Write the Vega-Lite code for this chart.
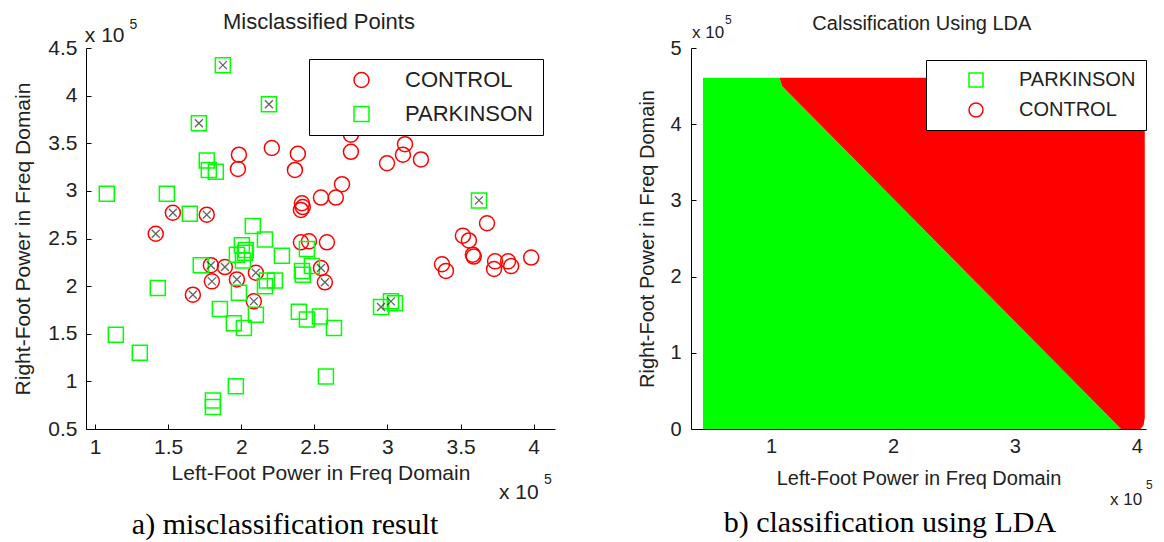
{
  "$schema": "https://vega.github.io/schema/vega-lite/v6.json",
  "background": "white",
  "padding": {"left": 12, "top": 10, "right": 5, "bottom": 0},
  "bounds": "flush",
  "spacing": 136,
  "datasets": {
    "points": [
      {"x": 2.209, "y": 3.45, "cls": "CONTROL", "mis": 0},
      {"x": 1.984, "y": 3.38, "cls": "CONTROL", "mis": 0},
      {"x": 1.977, "y": 3.23, "cls": "CONTROL", "mis": 0},
      {"x": 2.387, "y": 3.39, "cls": "CONTROL", "mis": 0},
      {"x": 2.367, "y": 3.22, "cls": "CONTROL", "mis": 0},
      {"x": 2.75, "y": 3.59, "cls": "CONTROL", "mis": 0},
      {"x": 2.75, "y": 3.41, "cls": "CONTROL", "mis": 0},
      {"x": 3.12, "y": 3.49, "cls": "CONTROL", "mis": 0},
      {"x": 3.106, "y": 3.38, "cls": "CONTROL", "mis": 0},
      {"x": 3.229, "y": 3.33, "cls": "CONTROL", "mis": 0},
      {"x": 2.997, "y": 3.29, "cls": "CONTROL", "mis": 0},
      {"x": 2.689, "y": 3.07, "cls": "CONTROL", "mis": 0},
      {"x": 2.545, "y": 2.93, "cls": "CONTROL", "mis": 0},
      {"x": 2.647, "y": 2.93, "cls": "CONTROL", "mis": 0},
      {"x": 2.415, "y": 2.87, "cls": "CONTROL", "mis": 0},
      {"x": 2.421, "y": 2.83, "cls": "CONTROL", "mis": 0},
      {"x": 2.408, "y": 2.8, "cls": "CONTROL", "mis": 0},
      {"x": 2.408, "y": 2.46, "cls": "CONTROL", "mis": 0},
      {"x": 2.463, "y": 2.47, "cls": "CONTROL", "mis": 0},
      {"x": 2.586, "y": 2.46, "cls": "CONTROL", "mis": 0},
      {"x": 3.681, "y": 2.66, "cls": "CONTROL", "mis": 0},
      {"x": 3.516, "y": 2.53, "cls": "CONTROL", "mis": 0},
      {"x": 3.557, "y": 2.48, "cls": "CONTROL", "mis": 0},
      {"x": 3.584, "y": 2.33, "cls": "CONTROL", "mis": 0},
      {"x": 3.59, "y": 2.31, "cls": "CONTROL", "mis": 0},
      {"x": 3.373, "y": 2.23, "cls": "CONTROL", "mis": 0},
      {"x": 3.4, "y": 2.16, "cls": "CONTROL", "mis": 0},
      {"x": 3.736, "y": 2.26, "cls": "CONTROL", "mis": 0},
      {"x": 3.729, "y": 2.18, "cls": "CONTROL", "mis": 0},
      {"x": 3.825, "y": 2.26, "cls": "CONTROL", "mis": 0},
      {"x": 3.846, "y": 2.21, "cls": "CONTROL", "mis": 0},
      {"x": 3.983, "y": 2.3, "cls": "CONTROL", "mis": 0},
      {"x": 1.532, "y": 2.77, "cls": "CONTROL", "mis": 1},
      {"x": 1.764, "y": 2.75, "cls": "CONTROL", "mis": 1},
      {"x": 1.415, "y": 2.55, "cls": "CONTROL", "mis": 1},
      {"x": 1.792, "y": 2.22, "cls": "CONTROL", "mis": 1},
      {"x": 1.888, "y": 2.2, "cls": "CONTROL", "mis": 1},
      {"x": 1.799, "y": 2.05, "cls": "CONTROL", "mis": 1},
      {"x": 1.97, "y": 2.07, "cls": "CONTROL", "mis": 1},
      {"x": 2.1, "y": 2.14, "cls": "CONTROL", "mis": 1},
      {"x": 1.669, "y": 1.91, "cls": "CONTROL", "mis": 1},
      {"x": 2.086, "y": 1.84, "cls": "CONTROL", "mis": 1},
      {"x": 2.545, "y": 2.19, "cls": "CONTROL", "mis": 1},
      {"x": 2.572, "y": 2.04, "cls": "CONTROL", "mis": 1},
      {"x": 1.874, "y": 4.32, "cls": "PARKINSON", "mis": 1},
      {"x": 2.189, "y": 3.91, "cls": "PARKINSON", "mis": 1},
      {"x": 1.71, "y": 3.71, "cls": "PARKINSON", "mis": 1},
      {"x": 3.626, "y": 2.9, "cls": "PARKINSON", "mis": 1},
      {"x": 2.956, "y": 1.78, "cls": "PARKINSON", "mis": 1},
      {"x": 3.024, "y": 1.84, "cls": "PARKINSON", "mis": 1},
      {"x": 3.051, "y": 1.82, "cls": "PARKINSON", "mis": 0},
      {"x": 1.764, "y": 3.32, "cls": "PARKINSON", "mis": 0},
      {"x": 1.778, "y": 3.22, "cls": "PARKINSON", "mis": 0},
      {"x": 1.826, "y": 3.2, "cls": "PARKINSON", "mis": 0},
      {"x": 1.08, "y": 2.97, "cls": "PARKINSON", "mis": 0},
      {"x": 1.491, "y": 2.97, "cls": "PARKINSON", "mis": 0},
      {"x": 1.648, "y": 2.76, "cls": "PARKINSON", "mis": 0},
      {"x": 2.079, "y": 2.63, "cls": "PARKINSON", "mis": 0},
      {"x": 2.162, "y": 2.49, "cls": "PARKINSON", "mis": 0},
      {"x": 2.004, "y": 2.43, "cls": "PARKINSON", "mis": 0},
      {"x": 2.031, "y": 2.38, "cls": "PARKINSON", "mis": 0},
      {"x": 2.025, "y": 2.35, "cls": "PARKINSON", "mis": 0},
      {"x": 1.97, "y": 2.33, "cls": "PARKINSON", "mis": 0},
      {"x": 2.011, "y": 2.27, "cls": "PARKINSON", "mis": 0},
      {"x": 2.278, "y": 2.32, "cls": "PARKINSON", "mis": 0},
      {"x": 1.723, "y": 2.22, "cls": "PARKINSON", "mis": 0},
      {"x": 2.175, "y": 2.06, "cls": "PARKINSON", "mis": 0},
      {"x": 2.23, "y": 2.06, "cls": "PARKINSON", "mis": 0},
      {"x": 2.162, "y": 2.0, "cls": "PARKINSON", "mis": 0},
      {"x": 1.984, "y": 1.93, "cls": "PARKINSON", "mis": 0},
      {"x": 1.429, "y": 1.98, "cls": "PARKINSON", "mis": 0},
      {"x": 1.854, "y": 1.76, "cls": "PARKINSON", "mis": 0},
      {"x": 2.1, "y": 1.7, "cls": "PARKINSON", "mis": 0},
      {"x": 1.949, "y": 1.61, "cls": "PARKINSON", "mis": 0},
      {"x": 2.018, "y": 1.56, "cls": "PARKINSON", "mis": 0},
      {"x": 1.142, "y": 1.49, "cls": "PARKINSON", "mis": 0},
      {"x": 1.306, "y": 1.3, "cls": "PARKINSON", "mis": 0},
      {"x": 1.963, "y": 0.95, "cls": "PARKINSON", "mis": 0},
      {"x": 1.806, "y": 0.8, "cls": "PARKINSON", "mis": 0},
      {"x": 1.806, "y": 0.73, "cls": "PARKINSON", "mis": 0},
      {"x": 2.449, "y": 2.39, "cls": "PARKINSON", "mis": 0},
      {"x": 2.483, "y": 2.21, "cls": "PARKINSON", "mis": 0},
      {"x": 2.415, "y": 2.16, "cls": "PARKINSON", "mis": 0},
      {"x": 2.421, "y": 2.12, "cls": "PARKINSON", "mis": 0},
      {"x": 2.394, "y": 1.73, "cls": "PARKINSON", "mis": 0},
      {"x": 2.449, "y": 1.65, "cls": "PARKINSON", "mis": 0},
      {"x": 2.538, "y": 1.68, "cls": "PARKINSON", "mis": 0},
      {"x": 2.634, "y": 1.56, "cls": "PARKINSON", "mis": 0},
      {"x": 2.579, "y": 1.05, "cls": "PARKINSON", "mis": 0}
    ],
    "regions": [
      {"cls": "PARKINSON", "x": 0.442, "ya": 0, "yb": 4.61},
      {"cls": "PARKINSON", "x": 1.07, "ya": 0, "yb": 4.61},
      {"cls": "PARKINSON", "x": 1.09, "ya": 0, "yb": 4.5},
      {"cls": "PARKINSON", "x": 3.84, "ya": 0, "yb": 0.05},
      {"cls": "PARKINSON", "x": 3.87, "ya": 0, "yb": 0},
      {"cls": "CONTROL", "x": 1.07, "ya": 4.61, "yb": 4.61},
      {"cls": "CONTROL", "x": 1.09, "ya": 4.5, "yb": 4.61},
      {"cls": "CONTROL", "x": 3.84, "ya": 0.05, "yb": 4.61},
      {"cls": "CONTROL", "x": 3.87, "ya": 0, "yb": 4.61},
      {"cls": "CONTROL", "x": 4.03, "ya": 0, "yb": 4.61},
      {"cls": "CONTROL", "x": 4.055, "ya": 0.05, "yb": 4.61},
      {"cls": "CONTROL", "x": 4.065, "ya": 0.15, "yb": 4.61}
    ]
  },
  "resolve": {
    "scale": {"x": "independent", "y": "independent", "shape": "independent", "stroke": "independent"},
    "legend": {"shape": "independent", "stroke": "independent"}
  },
  "hconcat": [
    {
      "width": 469,
      "height": 381,
      "layer": [
        {
          "data": {"name": "points"},
          "mark": {"type": "point", "filled": false, "size": 225, "strokeWidth": 1.5, "opacity": 1},
          "encoding": {
            "x": {"field": "x", "type": "quantitative",
              "scale": {"domain": [0.938, 4.146], "nice": false, "zero": false},
              "axis": {"values": [1, 1.5, 2, 2.5, 3, 3.5, 4], "format": "~g", "title": "Left-Foot Power in Freq Domain",
                "titleFont": "Liberation Sans", "titleFontSize": 21, "titleFontWeight": "normal", "titleColor": "#222", "titlePadding": 5,
                "labelFont": "Liberation Sans", "labelFontSize": 21, "labelColor": "#222", "labelPadding": 12,
                "tickSize": -5, "tickColor": "#000", "domainColor": "#000", "grid": false}},
            "y": {"field": "y", "type": "quantitative",
              "scale": {"domain": [0.5, 4.5], "nice": false, "zero": false},
              "axis": {"values": [0.5, 1, 1.5, 2, 2.5, 3, 3.5, 4, 4.5], "format": "~g", "title": "Right-Foot Power in Freq Domain",
                "titleFont": "Liberation Sans", "titleFontSize": 21, "titleFontWeight": "normal", "titleColor": "#222", "titlePadding": 14,
                "labelFont": "Liberation Sans", "labelFontSize": 21, "labelColor": "#222", "labelPadding": 14,
                "tickSize": -5, "tickColor": "#000", "domainColor": "#000", "grid": false}},
            "shape": {"field": "cls", "type": "nominal", "scale": {"domain": ["CONTROL", "PARKINSON"], "range": ["circle", "square"]},
              "legend": {"title": null, "orient": "none", "legendX": 223, "legendY": 11, "direction": "vertical",
                "strokeColor": "#000", "fillColor": "white", "padding": 10, "rowPadding": 12,
                "labelFont": "Liberation Sans", "labelFontSize": 22, "labelColor": "#222",
                "symbolSize": 225, "symbolStrokeWidth": 1.5, "symbolFillColor": "transparent", "symbolOffset": 31.5, "labelOffset": 32.5}},
            "stroke": {"field": "cls", "type": "nominal", "scale": {"domain": ["CONTROL", "PARKINSON"], "range": ["#ff0000", "#00ff00"]},
              "legend": {"title": null, "orient": "none", "legendX": 223, "legendY": 11, "direction": "vertical",
                "strokeColor": "#000", "fillColor": "white", "padding": 10, "rowPadding": 12,
                "labelFont": "Liberation Sans", "labelFontSize": 22, "labelColor": "#222",
                "symbolSize": 225, "symbolStrokeWidth": 1.5, "symbolFillColor": "transparent", "symbolOffset": 31.5, "labelOffset": 32.5}}
          }
        },
        {
          "data": {"name": "points"},
          "transform": [{"filter": "datum.mis == 1"}],
          "mark": {"type": "point", "shape": "M-1,-1L1,1M-1,1L1,-1", "size": 64, "filled": false, "stroke": "#222", "strokeWidth": 1.3},
          "encoding": {
            "x": {"field": "x", "type": "quantitative"},
            "y": {"field": "y", "type": "quantitative"}
          }
        },
        {
          "data": {"values": [{}]},
          "mark": {"type": "text", "text": "Misclassified Points", "font": "Liberation Sans", "fontSize": 22, "color": "#222", "align": "center", "baseline": "alphabetic"},
          "encoding": {"x": {"datum": 2.531, "type": "quantitative"}, "y": {"datum": 4.7, "type": "quantitative"}}
        },
        {
          "data": {"values": [{}]},
          "mark": {"type": "text", "text": "x 10", "font": "Liberation Sans", "fontSize": 21, "color": "#222", "align": "left", "baseline": "alphabetic"},
          "encoding": {"x": {"datum": 0.93, "type": "quantitative"}, "y": {"datum": 4.56, "type": "quantitative"}}
        },
        {
          "data": {"values": [{}]},
          "mark": {"type": "text", "text": "5", "font": "Liberation Sans", "fontSize": 14, "color": "#222", "align": "left", "baseline": "alphabetic"},
          "encoding": {"x": {"datum": 1.235, "type": "quantitative"}, "y": {"datum": 4.7, "type": "quantitative"}}
        },
        {
          "data": {"values": [{}]},
          "mark": {"type": "text", "text": "x 10", "font": "Liberation Sans", "fontSize": 21, "color": "#222", "align": "left", "baseline": "alphabetic"},
          "encoding": {"x": {"datum": 3.763, "type": "quantitative"}, "y": {"datum": -0.24, "type": "quantitative"}}
        },
        {
          "data": {"values": [{}]},
          "mark": {"type": "text", "text": "5", "font": "Liberation Sans", "fontSize": 14, "color": "#222", "align": "left", "baseline": "alphabetic"},
          "encoding": {"x": {"datum": 4.07, "type": "quantitative"}, "y": {"datum": -0.08, "type": "quantitative"}}
        },
        {
          "data": {"values": [{}]},
          "mark": {"type": "text", "text": "a) misclassification result", "font": "Liberation Serif", "fontSize": 30, "color": "#000", "align": "center", "baseline": "alphabetic"},
          "encoding": {"x": {"datum": 2.3, "type": "quantitative"}, "y": {"datum": -0.6, "type": "quantitative"}}
        }
      ]
    },
    {
      "width": 455,
      "height": 381,
      "layer": [
        {
          "data": {"name": "regions"},
          "transform": [{"filter": "datum.cls == 'PARKINSON'"}],
          "mark": {"type": "area", "opacity": 1, "fill": "#00ff00", "stroke": null},
          "encoding": {
            "x": {"field": "x", "type": "quantitative",
              "scale": {"domain": [0.344, 4.075], "nice": false, "zero": false},
              "axis": {"values": [1, 2, 3, 4], "format": "~g", "title": "Left-Foot Power in Freq Domain",
                "titleFont": "Liberation Sans", "titleFontSize": 20, "titleFontWeight": "normal", "titleColor": "#222", "titlePadding": 12,
                "labelFont": "Liberation Sans", "labelFontSize": 20, "labelColor": "#222", "labelPadding": 12,
                "tickSize": -5, "tickColor": "#000", "domainColor": "#000", "grid": false}},
            "y": {"field": "ya", "type": "quantitative", "stack": null,
              "scale": {"domain": [0, 5], "nice": false, "zero": false},
              "axis": {"values": [0, 1, 2, 3, 4, 5], "format": "~g", "title": "Right-Foot Power in Freq Domain",
                "titleFont": "Liberation Sans", "titleFontSize": 20, "titleFontWeight": "normal", "titleColor": "#222", "titlePadding": 12,
                "labelFont": "Liberation Sans", "labelFontSize": 20, "labelColor": "#222", "labelPadding": 15,
                "tickSize": -5, "tickColor": "#000", "domainColor": "#000", "grid": false}},
            "y2": {"field": "yb"}
          }
        },
        {
          "data": {"name": "regions"},
          "transform": [{"filter": "datum.cls == 'CONTROL'"}],
          "mark": {"type": "area", "opacity": 1, "fill": "#ff0000", "stroke": null},
          "encoding": {
            "x": {"field": "x", "type": "quantitative"},
            "y": {"field": "ya", "type": "quantitative", "stack": null},
            "y2": {"field": "yb"}
          }
        },
        {
          "data": {"name": "regions"},
          "mark": {"type": "point", "filled": false, "size": 196, "strokeWidth": 1.5, "opacity": 0},
          "encoding": {
            "x": {"field": "x", "type": "quantitative"},
            "y": {"field": "ya", "type": "quantitative"},
            "shape": {"field": "cls", "type": "nominal", "scale": {"domain": ["PARKINSON", "CONTROL"], "range": ["square", "circle"]},
              "legend": {"title": null, "orient": "none", "legendX": 235, "legendY": 12, "direction": "vertical",
                "strokeColor": "#000", "fillColor": "white", "padding": 10, "rowPadding": 10,
                "labelFont": "Liberation Sans", "labelFontSize": 20, "labelColor": "#222",
                "symbolSize": 196, "symbolStrokeWidth": 1.5, "symbolFillColor": "transparent", "symbolOpacity": 1, "symbolOffset": 30, "labelOffset": 33,
                "encode": {"symbols": {"update": {"opacity": {"value": 1}}}}}},
            "stroke": {"field": "cls", "type": "nominal", "scale": {"domain": ["PARKINSON", "CONTROL"], "range": ["#00ff00", "#ff0000"]},
              "legend": {"title": null, "orient": "none", "legendX": 235, "legendY": 12, "direction": "vertical",
                "strokeColor": "#000", "fillColor": "white", "padding": 10, "rowPadding": 10,
                "labelFont": "Liberation Sans", "labelFontSize": 20, "labelColor": "#222",
                "symbolSize": 196, "symbolStrokeWidth": 1.5, "symbolFillColor": "transparent", "symbolOpacity": 1, "symbolOffset": 30, "labelOffset": 33,
                "encode": {"symbols": {"update": {"opacity": {"value": 1}}}}}}
          }
        },
        {
          "data": {"values": [{}]},
          "mark": {"type": "text", "text": "Calssification Using LDA", "font": "Liberation Sans", "fontSize": 20, "color": "#222", "align": "center", "baseline": "alphabetic"},
          "encoding": {"x": {"datum": 2.237, "type": "quantitative"}, "y": {"datum": 5.24, "type": "quantitative"}}
        },
        {
          "data": {"values": [{}]},
          "mark": {"type": "text", "text": "x 10", "font": "Liberation Sans", "fontSize": 17, "color": "#222", "align": "left", "baseline": "alphabetic"},
          "encoding": {"x": {"datum": 0.352, "type": "quantitative"}, "y": {"datum": 5.13, "type": "quantitative"}}
        },
        {
          "data": {"values": [{}]},
          "mark": {"type": "text", "text": "5", "font": "Liberation Sans", "fontSize": 12, "color": "#222", "align": "left", "baseline": "alphabetic"},
          "encoding": {"x": {"datum": 0.623, "type": "quantitative"}, "y": {"datum": 5.31, "type": "quantitative"}}
        },
        {
          "data": {"values": [{}]},
          "mark": {"type": "text", "text": "x 10", "font": "Liberation Sans", "fontSize": 17, "color": "#222", "align": "left", "baseline": "alphabetic"},
          "encoding": {"x": {"datum": 3.78, "type": "quantitative"}, "y": {"datum": -1.0, "type": "quantitative"}}
        },
        {
          "data": {"values": [{}]},
          "mark": {"type": "text", "text": "5", "font": "Liberation Sans", "fontSize": 12, "color": "#222", "align": "left", "baseline": "alphabetic"},
          "encoding": {"x": {"datum": 4.074, "type": "quantitative"}, "y": {"datum": -0.79, "type": "quantitative"}}
        },
        {
          "data": {"values": [{}]},
          "mark": {"type": "text", "text": "b) classification using LDA", "font": "Liberation Serif", "fontSize": 30, "color": "#000", "align": "center", "baseline": "alphabetic"},
          "encoding": {"x": {"datum": 1.975, "type": "quantitative"}, "y": {"datum": -1.35, "type": "quantitative"}}
        }
      ]
    }
  ],
  "config": {
    "view": {"stroke": null},
    "font": "Liberation Sans"
  }
}
